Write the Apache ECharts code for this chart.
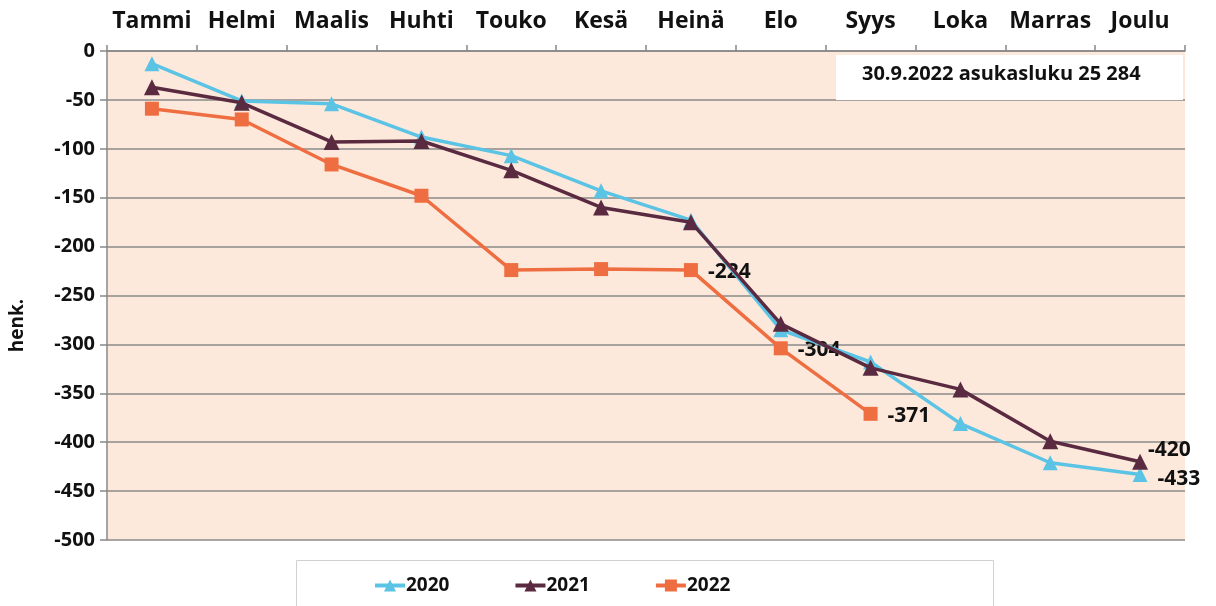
<!DOCTYPE html>
<html>
<head>
<meta charset="utf-8">
<script src="https://cdn.jsdelivr.net/npm/echarts@6/dist/echarts.min.js"></script>
<style>
  html, body { margin: 0; padding: 0; background: #fff; }
  #chart { width: 1216px; height: 606px; }
</style>
</head>
<body>
<div id="chart"></div>
<script>
var FONT = '"Open Sans", "Noto Sans", sans-serif';
var MONTHS = ['Tammi', 'Helmi', 'Maalis', 'Huhti', 'Touko', 'Kesä', 'Heinä', 'Elo', 'Syys', 'Loka', 'Marras', 'Joulu'];
var Y2020 = [-13, -51, -54, -88, -107, -143, -173, -285, -318, -381, -421, -433];
var Y2021 = [-37, -53, -93, -92, -122, -160, -175, -279, -324, -346, -399, -420];
var Y2022 = [-59, -70, -116, -148, -224, -223, -224, -304, -371];
// which points carry a value label
var LABEL_2020 = [11];
var LABEL_2021 = [11];
var LABEL_2022 = [6, 7, 8];

function withLabels(values, idxs, offset) {
  return values.map(function (v, i) {
    if (idxs.indexOf(i) < 0) return v;
    return {
      value: v,
      label: { show: true, position: 'right', offset: offset, distance: 10 }
    };
  });
}

var labelStyle = { fontFamily: FONT, fontSize: 21, fontWeight: 700, color: '#111' };

var chart = echarts.init(document.getElementById('chart'));
chart.setOption({
  animation: false,
  textStyle: { fontFamily: FONT },
  grid: { left: 107, right: 31, top: 51, bottom: 66, show: true, backgroundColor: '#FDE9DB', borderWidth: 0 },
  graphic: [
    {
      type: 'rect', left: 296, top: 560, z: 0,
      shape: { width: 697, height: 50 },
      style: { fill: '#fff', stroke: '#d0d0d0', lineWidth: 1 }
    },
    {
      type: 'rect', left: 836, top: 55, z: 5,
      shape: { width: 347, height: 45 },
      style: { fill: '#fff' }
    },
    {
      type: 'text', left: 862, top: 64, z: 6,
      style: { text: '30.9.2022 asukasluku 25 284', font: '700 20px ' + FONT, fill: '#111' }
    }
  ],
  legend: {
    top: 571,
    left: 368,
    itemWidth: 30,
    itemHeight: 15,
    itemGap: 64,
    lineStyle: { width: 4 },
    textStyle: { fontFamily: FONT, fontSize: 19, fontWeight: 700, color: '#111', padding: [0, 0, 0, -4] },
    data: ['2020', '2021', '2022']
  },
  xAxis: {
    type: 'category',
    position: 'top',
    data: MONTHS,
    boundaryGap: true,
    axisLine: { show: true, lineStyle: { color: '#888', width: 1.5 } },
    axisTick: { show: true, length: 6, lineStyle: { color: '#888', width: 1.5 } },
    axisLabel: { interval: 0, margin: 18, fontFamily: FONT, fontSize: 23, fontWeight: 700, color: '#111' }
  },
  yAxis: {
    type: 'value',
    min: -500,
    max: 0,
    interval: 50,
    name: 'henk.',
    nameLocation: 'middle',
    nameRotate: 90,
    nameGap: 80,
    nameTextStyle: { fontFamily: FONT, fontSize: 19, fontWeight: 700, color: '#111', padding: [0, 60, 0, 0] },
    axisLine: { show: true, lineStyle: { color: '#888', width: 1.5 } },
    axisTick: { show: true, length: 7, lineStyle: { color: '#888', width: 1.5 } },
    axisLabel: { margin: 12, fontFamily: FONT, fontSize: 20, fontWeight: 700, color: '#111' },
    splitLine: { lineStyle: { color: '#8a8a8a', width: 1.5 } }
  },
  series: [
    {
      name: '2020', type: 'line',
      data: withLabels(Y2020, LABEL_2020, [0, 5]),
      symbol: 'triangle', symbolSize: 15,
      itemStyle: { color: '#5BC4E5' },
      lineStyle: { color: '#5BC4E5', width: 3.5 },
      label: labelStyle, z: 3
    },
    {
      name: '2021', type: 'line',
      data: withLabels(Y2021, LABEL_2021, [-10, -12]),
      symbol: 'triangle', symbolSize: 16,
      itemStyle: { color: '#5A2A40' },
      lineStyle: { color: '#5A2A40', width: 3.5 },
      label: labelStyle, z: 4
    },
    {
      name: '2022', type: 'line',
      data: withLabels(Y2022, LABEL_2022, [0, 2]),
      symbol: 'rect', symbolSize: 14,
      itemStyle: { color: '#EF6E41' },
      lineStyle: { color: '#EF6E41', width: 3.5 },
      label: labelStyle, z: 2
    }
  ]
});
</script>
</body>
</html>
